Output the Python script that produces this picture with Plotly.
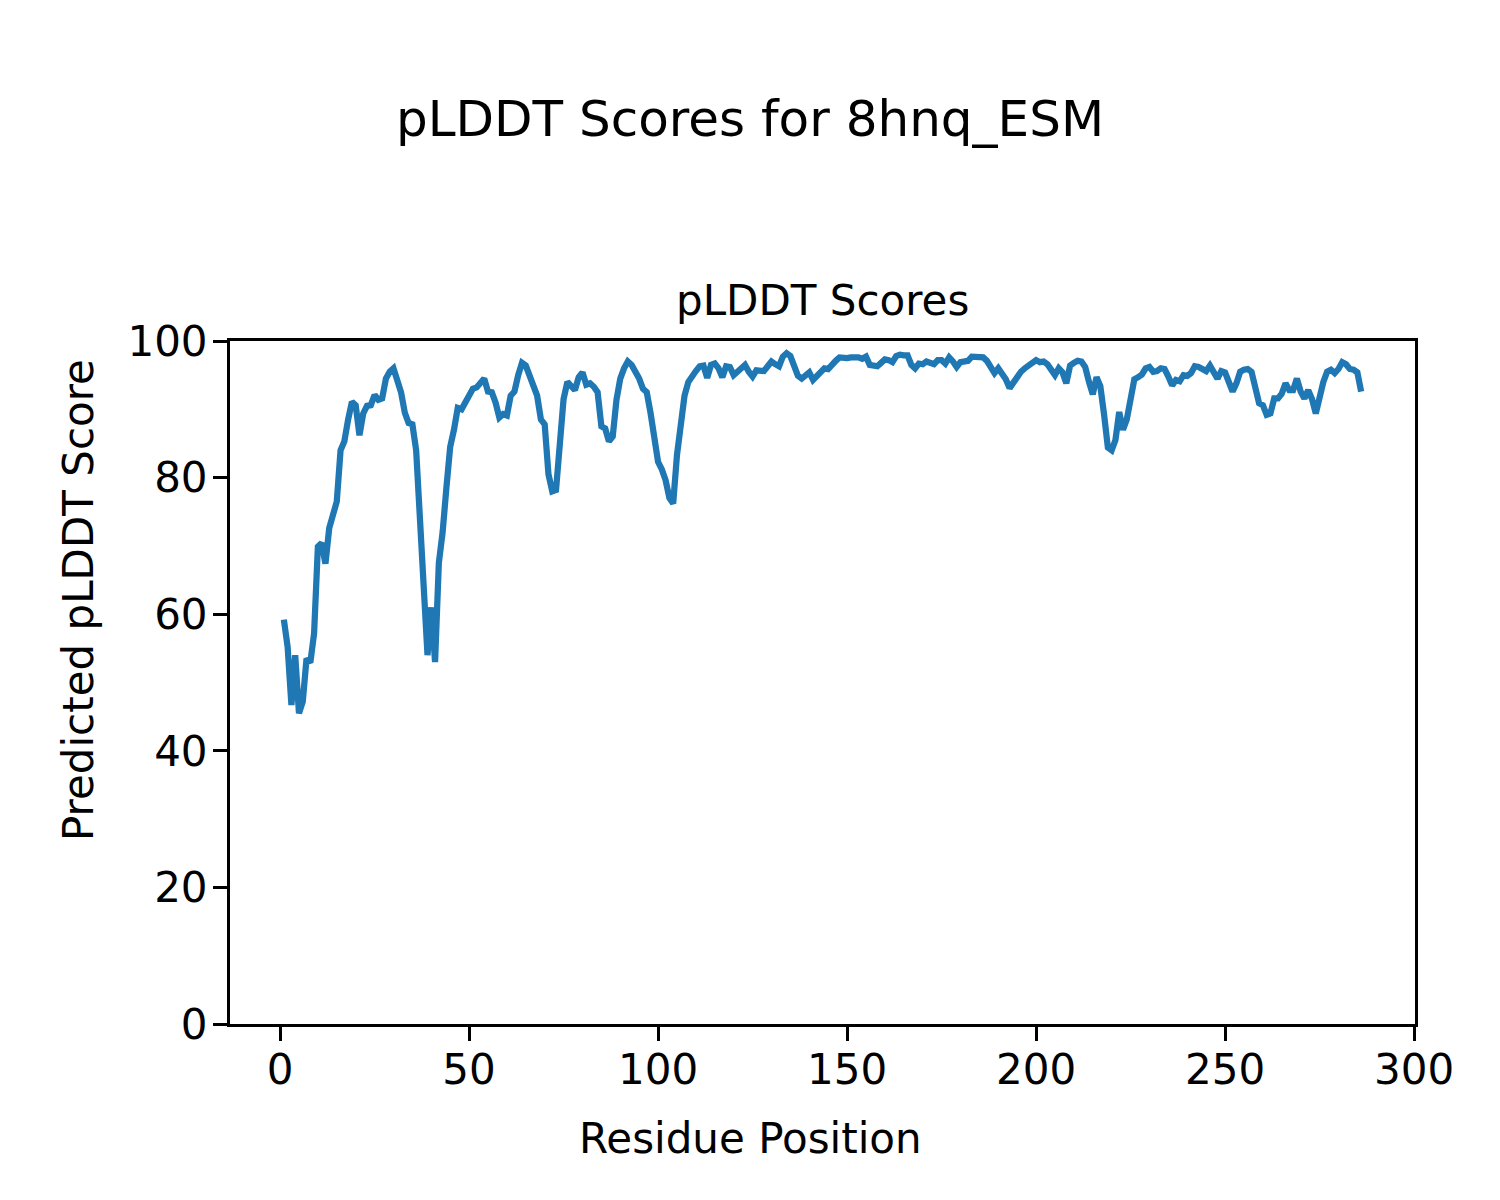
import plotly.graph_objects as go

residues = list(range(1, 287))
plddt = [
    59.2, 55.2, 46.7, 54.0, 45.5, 47.2, 53.5, 52.9, 57.2, 69.9,
    70.4, 67.4, 72.6, 74.5, 76.5, 84.0, 85.3, 88.5, 91.1, 90.6,
    86.2, 89.4, 90.5, 90.6, 92.1, 91.4, 91.6, 94.5, 95.5, 96.0,
    94.5, 92.5, 89.5, 88.0, 87.8, 84.0, 74.0, 63.0, 54.0, 61.0,
    53.0, 67.5, 72.0, 78.5, 84.5, 87.0, 90.2, 90.0, 91.0, 92.4,
    93.0, 93.2, 94.0, 94.5, 92.6, 92.5, 91.0, 88.8, 89.3, 89.1,
    92.0, 92.6, 95.0, 96.8, 96.4, 95.0, 93.0, 92.0, 88.5, 87.8,
    80.5, 78.0, 78.2, 86.5, 91.5, 94.0, 93.3, 92.8, 94.7, 95.4,
    93.6, 93.8, 93.3, 92.5, 87.5, 87.2, 85.3, 86.0, 91.4, 94.5,
    96.0, 97.0, 96.5, 95.5, 94.5, 93.0, 92.5, 89.5, 85.5, 82.3,
    81.2, 79.6, 77.0, 76.2, 83.3, 87.5, 92.0, 94.0, 95.0, 95.6,
    96.3, 96.4, 94.6, 96.5, 96.7, 96.0, 94.7, 96.3, 96.2, 95.0,
    95.5, 96.0, 96.5, 95.5, 94.8, 95.7, 95.6, 95.6, 96.3, 97.0,
    96.6, 96.3, 97.7, 98.2, 97.8, 96.5, 94.9, 94.5, 95.0, 95.4,
    94.3, 94.9, 95.6, 96.0, 95.9, 96.6, 97.1, 97.6, 97.5, 97.5,
    97.6, 97.7, 97.6, 97.4, 97.7, 96.5, 96.4, 96.3, 96.8, 97.3,
    97.2, 96.9, 97.8, 98.0, 97.9, 97.9, 96.5, 96.0, 96.7, 96.6,
    97.0, 96.8, 96.6, 97.2, 97.2, 96.7, 97.6, 97.0, 96.2, 96.9,
    97.1, 97.1, 97.7, 97.7, 97.7, 97.6, 97.1, 96.2, 95.3, 96.0,
    95.2, 94.4, 93.1, 94.0, 94.8, 95.5, 96.0, 96.4, 96.9, 97.2,
    96.9, 97.0, 96.6, 95.8, 95.0, 96.0, 95.4, 93.8, 96.4, 96.8,
    97.1, 97.0, 96.2, 94.0, 92.2, 94.7, 93.4, 89.2, 84.4, 84.0,
    85.5, 89.6, 87.0, 88.5, 92.0, 94.4, 94.7, 95.1, 96.0, 96.2,
    95.5, 95.6, 96.0, 95.9, 94.8, 93.5, 94.3, 94.1, 95.0, 94.9,
    95.3, 96.3, 96.2, 95.9, 95.6, 96.4, 95.3, 94.5, 95.6, 95.4,
    94.0, 92.6, 93.8, 95.5, 95.8, 95.9, 95.5, 92.8, 90.9, 90.6,
    89.2, 89.4, 91.6, 91.6, 92.3, 93.8, 92.8, 92.8, 94.5, 92.6,
    91.6, 92.8, 91.5, 89.4, 92.3, 94.0, 95.5, 95.8, 95.3, 95.9,
    96.9, 96.6, 95.9, 95.8, 95.4, 92.6,
]

x_ticks = [0, 50, 100, 150, 200, 250, 300]
y_ticks = [0, 20, 40, 60, 80, 100]

FONT = "DejaVu Sans"

fig = go.Figure()
fig.add_trace(go.Scatter(
    x=residues, y=plddt, mode="lines",
    line=dict(color="#1f77b4", width=6.25),
    showlegend=False,
))

axis_common = dict(
    showline=True, linecolor="black", linewidth=3, mirror=True,
    ticks="outside", ticklen=14, tickwidth=3, tickcolor="black",
    showgrid=False, zeroline=False,
    tickfont=dict(family=FONT, size=42, color="black"),
)

L, T, PW, PH = 222, 333, 1185, 683

fig.update_layout(
    width=1500, height=1200,
    paper_bgcolor="white", plot_bgcolor="white",
    margin=dict(l=L, r=1500 - L - PW, t=T, b=1200 - T - PH),
    font=dict(family=FONT, color="black"),
    title=dict(
        text="pLDDT Scores for 8hnq_ESM",
        x=742 / 1500, xanchor="center", xref="container",
        y=1 - 110 / 1200, yanchor="middle", yref="container",
        font=dict(family=FONT, size=50, color="black"),
    ),
    xaxis=dict(
        range=[-13.25, 300.25], tickvals=x_ticks,
        ticktext=[str(v) for v in x_ticks],
        ticklabelstandoff=-7,
        **axis_common,
    ),
    yaxis=dict(
        range=[0, 100], tickvals=y_ticks,
        ticktext=[str(v) for v in y_ticks],
        ticklabelstandoff=-3,
        **axis_common,
    ),
    annotations=[
        dict(
            text="pLDDT Scores", x=0.5, y=1, xref="paper", yref="paper",
            xanchor="center", yanchor="bottom", yshift=14, showarrow=False,
            font=dict(family=FONT, size=42, color="black"),
        ),
        dict(
            text="Residue Position",
            x=(742 - L) / PW, y=1 - (1130 - T) / PH,
            xref="paper", yref="paper", xanchor="center", yanchor="middle",
            showarrow=False,
            font=dict(family=FONT, size=42, color="black"),
        ),
        dict(
            text="Predicted pLDDT Score", textangle=-90,
            x=(70 - L) / PW, y=1 - (592 - T) / PH,
            xref="paper", yref="paper", xanchor="center", yanchor="middle",
            showarrow=False,
            font=dict(family=FONT, size=42, color="black"),
        ),
    ],
)

fig.write_html("out.html")
